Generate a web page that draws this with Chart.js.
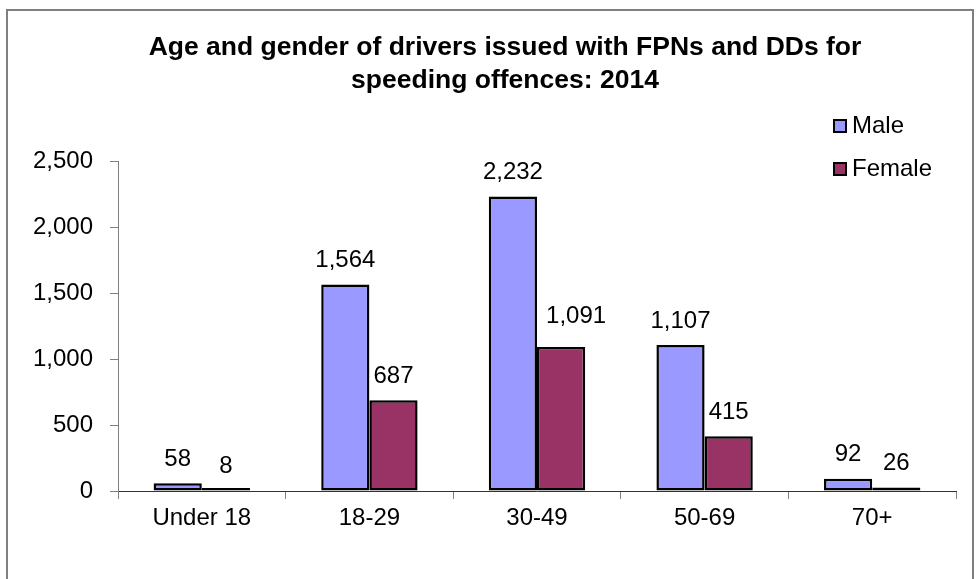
<!DOCTYPE html>
<html>
<head>
<meta charset="utf-8">
<script src="https://cdn.jsdelivr.net/npm/chart.js@4.4.1/dist/chart.umd.min.js"></script>
<style>
  html, body { margin: 0; padding: 0; background: #ffffff; overflow: hidden; }
  #wrap { position: relative; width: 979px; height: 579px; }
  #frame { position: absolute; left: 6px; top: 9px; width: 968px; height: 600px; border: 2px solid #808080; box-sizing: border-box; }
  canvas { position: absolute; left: 0; top: 0; }
</style>
</head>
<body>
<div id="wrap">
  <div id="frame"></div>
  <canvas id="c" width="979" height="579"></canvas>
</div>
<script>
// ---- data ----
const titleLines = ['Age and gender of drivers issued with FPNs and DDs for', 'speeding offences: 2014'];
const categories = ['Under 18', '18-29', '30-49', '50-69', '70+'];
const seriesNames = ['Male', 'Female'];
const maleValues = [58, 1564, 2232, 1107, 92];
const femaleValues = [8, 687, 1091, 415, 26];
const yTickValues = [0, 500, 1000, 1500, 2000, 2500];
const seriesColors = ['#9999FF', '#993366'];

const FONT = '"Liberation Sans", Arial, Helvetica, sans-serif';
const fmt = v => Number(v).toLocaleString('en-US');

// label nudges (dataset:index -> [dx, dy]) to avoid overlaps, as in the original
const labelNudge = { '1:2': [15, -7] };

const overlay = {
  id: 'overlay',
  afterDatasetsDraw(chart) {
    const ctx = chart.ctx;
    ctx.save();
    ctx.font = '24px ' + FONT;
    ctx.fillStyle = '#000';
    ctx.textAlign = 'center';
    ctx.textBaseline = 'middle';
    chart.data.datasets.forEach((ds, di) => {
      const meta = chart.getDatasetMeta(di);
      meta.data.forEach((el, i) => {
        const n = labelNudge[di + ':' + i] || [0, 0];
        const yTop = chart.scales.y.getPixelForValue(ds.data[i]);
        ctx.fillText(fmt(ds.data[i]), el.x + n[0], yTop - 24 + n[1]);
      });
    });
    ctx.restore();
  },
  afterDraw(chart) {
    const ctx = chart.ctx;
    ctx.save();
    // title
    ctx.font = 'bold 26.5px ' + FONT;
    ctx.fillStyle = '#000';
    ctx.textAlign = 'center';
    ctx.textBaseline = 'middle';
    ctx.fillText(titleLines[0], 505, 48);
    ctx.fillText(titleLines[1], 505, 81);
    // legend
    const ys = [126, 169];
    ctx.font = '24px ' + FONT;
    ctx.textAlign = 'left';
    seriesNames.forEach((n, i) => {
      ctx.fillStyle = seriesColors[i];
      ctx.fillRect(834, ys[i] - 6, 12, 12);
      ctx.lineWidth = 2;
      ctx.strokeStyle = '#000';
      ctx.strokeRect(834, ys[i] - 6, 12, 12);
      ctx.fillStyle = '#000';
      ctx.fillText(n, 852, ys[i]);
    });
    ctx.restore();
  }
};

new Chart(document.getElementById('c'), {
  type: 'bar',
  data: {
    labels: categories,
    datasets: [
      { label: seriesNames[0], data: maleValues, backgroundColor: seriesColors[0] },
      { label: seriesNames[1], data: femaleValues, backgroundColor: seriesColors[1] }
    ]
  },
  options: {
    responsive: false,
    animation: false,
    devicePixelRatio: 1,
    layout: { padding: { left: 10, right: 23, top: 161, bottom: 28 } },
    datasets: {
      bar: { barPercentage: 1, categoryPercentage: 0.575, borderWidth: 2.5, borderColor: '#000', borderSkipped: false, minBarLength: 3 }
    },
    plugins: { legend: { display: false }, title: { display: false }, tooltip: { enabled: false } },
    scales: {
      x: {
        grid: { drawOnChartArea: false, drawTicks: true, tickLength: 8, color: '#808080', offset: true },
        border: { display: true, color: '#333', width: 1 },
        ticks: { color: '#000', font: { family: FONT, size: 24 }, padding: 5, maxRotation: 0, autoSkip: false },
        afterFit(s) { s.height = 60; s.paddingLeft = 0; s.paddingRight = 0; }
      },
      y: {
        min: 0, max: 2500,
        afterBuildTicks(s) { s.ticks = yTickValues.map(v => ({ value: v })); },
        grid: { drawOnChartArea: false, drawTicks: true, tickLength: 8, color: '#808080' },
        border: { display: true, color: '#808080', width: 1 },
        ticks: { color: '#000', font: { family: FONT, size: 24 }, padding: 17, callback: v => fmt(v) },
        afterFit(s) { s.width = 108; s.paddingTop = 0; s.paddingBottom = 0; }
      }
    }
  },
  plugins: [overlay]
});
</script>
</body>
</html>
